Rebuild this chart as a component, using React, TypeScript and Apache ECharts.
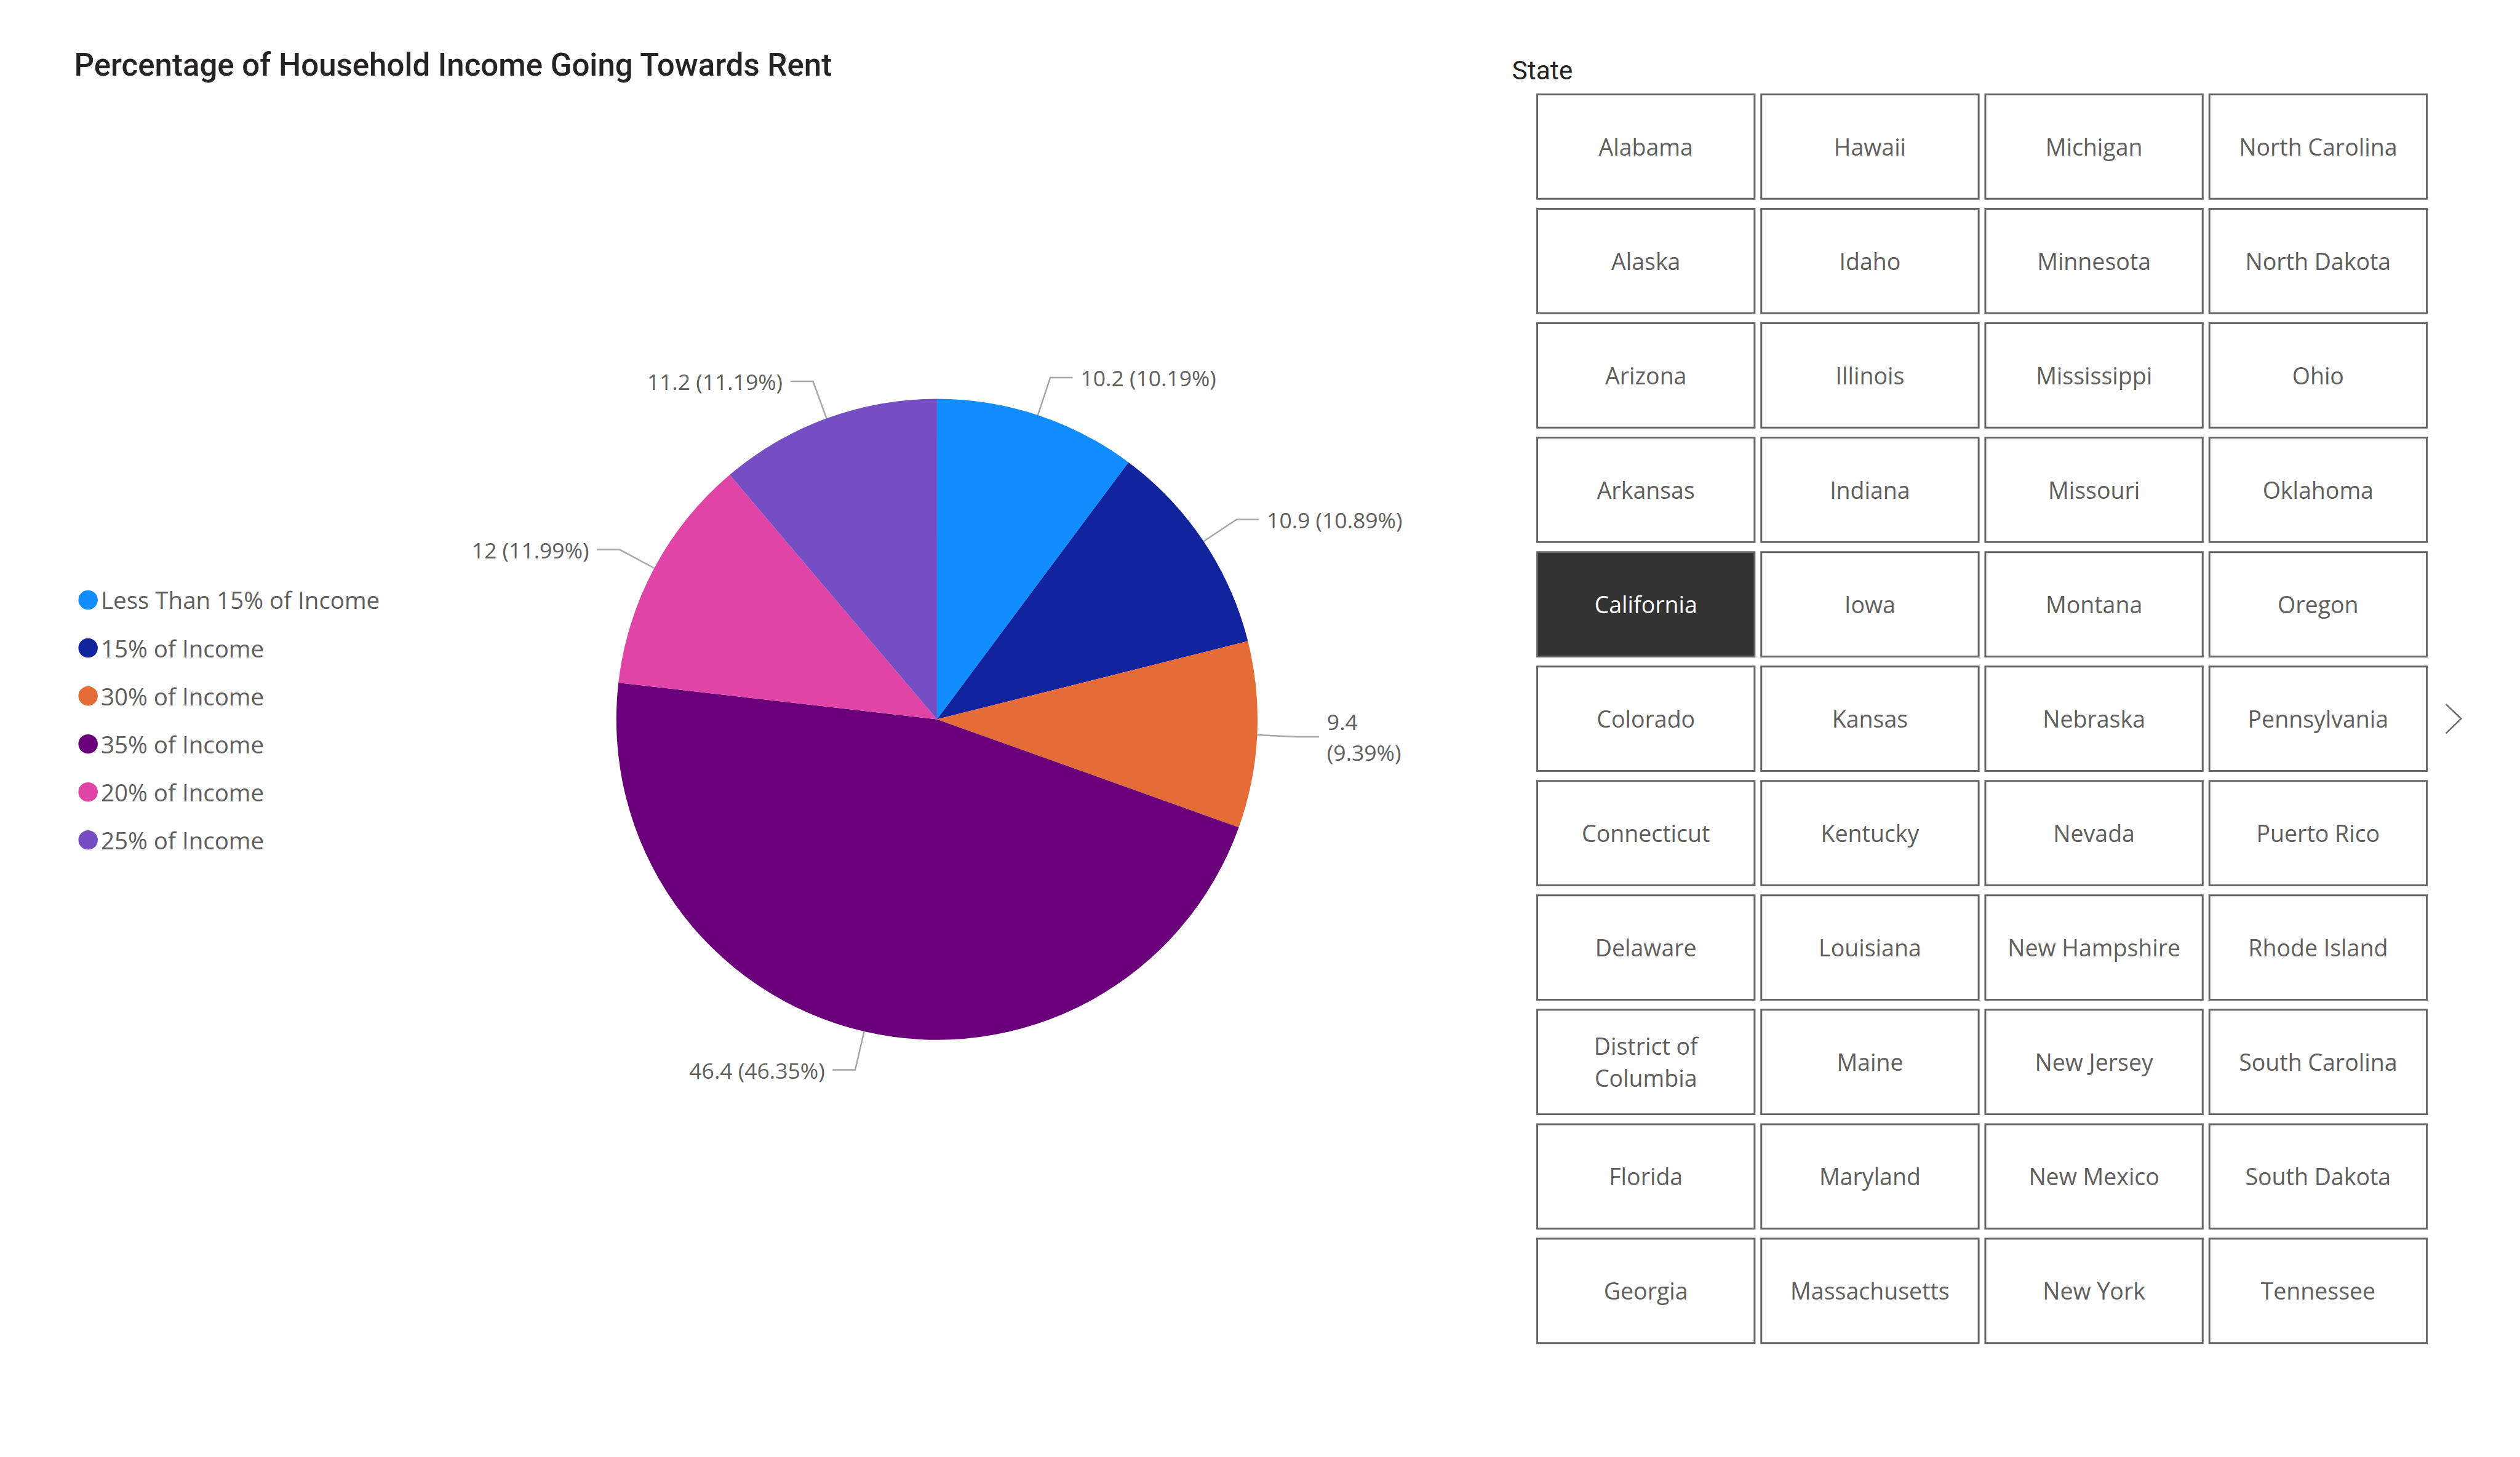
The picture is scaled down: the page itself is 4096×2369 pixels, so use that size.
import React, { useEffect, useRef } from "react";
import * as echarts from "echarts";

const S = 4096 / 4150;

const titleText = "Percentage of Household Income Going Towards Rent";
const categories = [
  "Less Than 15% of Income",
  "15% of Income",
  "30% of Income",
  "35% of Income",
  "20% of Income",
  "25% of Income",
];
const values = [10.2, 10.9, 9.4, 46.4, 12, 11.2];
const sliceColors = ["#118DFF", "#12239E", "#E66C37", "#6B007B", "#E044A7", "#744EC2"];
const wrappedLabels = ["30% of Income"];

const slicerTitle = "State";
const stateColumns = [
  ["Alabama", "Alaska", "Arizona", "Arkansas", "California", "Colorado", "Connecticut", "Delaware", "District of\nColumbia", "Florida", "Georgia"],
  ["Hawaii", "Idaho", "Illinois", "Indiana", "Iowa", "Kansas", "Kentucky", "Louisiana", "Maine", "Maryland", "Massachusetts"],
  ["Michigan", "Minnesota", "Mississippi", "Missouri", "Montana", "Nebraska", "Nevada", "New Hampshire", "New Jersey", "New Mexico", "New York"],
  ["North Carolina", "North Dakota", "Ohio", "Oklahoma", "Oregon", "Pennsylvania", "Puerto Rico", "Rhode Island", "South Carolina", "South Dakota", "Tennessee"],
];
const selectedState = "California";

function buildSlicer() {
  const els: any[] = [];
  const x0 = 2530, y0 = 154, colPitch = 369, rowPitch = 188.5, w = 361, h = 175, bw = 3;
  stateColumns.forEach((col, c) => {
    col.forEach((name, r) => {
      const x = x0 + c * colPitch;
      const y = y0 + r * rowPitch;
      const sel = name === selectedState;
      els.push({
        type: "rect",
        silent: true,
        shape: { x: (x + bw / 2) * S, y: (y + bw / 2) * S, width: (w - bw) * S, height: (h - bw) * S },
        style: { fill: sel ? "#333333" : "#FFFFFF", stroke: "#666666", lineWidth: bw * S },
      });
      els.push({
        type: "text",
        silent: true,
        style: {
          text: name,
          x: (x + w / 2) * S,
          y: (y + h / 2) * S,
          align: "center",
          verticalAlign: "middle",
          fontFamily: "Open Sans",
          fontSize: 38 * S,
          lineHeight: 53 * S,
          fill: sel ? "#FFFFFF" : "#605E5C",
        },
      });
    });
  });
  els.push({
    type: "polyline",
    silent: true,
    shape: { points: [[4028 * S, 1160 * S], [4053 * S, 1184 * S], [4028 * S, 1208 * S]] },
    style: { stroke: "#666666", lineWidth: 2.5 * S, fill: null },
  });
  els.push({
    type: "text",
    silent: true,
    style: {
      text: slicerTitle,
      x: 2490 * S,
      y: 116 * S,
      align: "left",
      verticalAlign: "middle",
      fontFamily: "Roboto",
      fontSize: 43 * S,
      fill: "#252423",
    },
  });
  return els;
}

export default function App() {
  const ref = useRef<HTMLDivElement>(null);
  useEffect(() => {
    if (!ref.current) return;
    const chart = echarts.init(ref.current, undefined, { renderer: "svg" });
    const data = categories.map((name, i) => ({
      name,
      value: values[i],
      itemStyle: { color: sliceColors[i] },
    }));
    chart.setOption({
      animation: false,
      backgroundColor: "#FFFFFF",
      title: {
        text: titleText,
        left: 117 * S,
        top: 76 * S,
        textStyle: { fontFamily: "Roboto", fontSize: 51.7 * S, fontWeight: 500, color: "#252423" },
      },
      legend: {
        orient: "vertical",
        left: 124 * S,
        top: 964 * S,
        icon: "circle",
        itemWidth: 32 * S,
        itemHeight: 32 * S,
        itemGap: 40.6 * S,
        selectedMode: false,
        data: categories,
        textStyle: { fontFamily: "Open Sans", fontSize: 39 * S, color: "#605E5C", lineHeight: 32 * S },
      },
      series: [
        {
          type: "pie",
          silent: true,
          center: [1543 * S, 1185 * S],
          radius: 528 * S,
          startAngle: 90,
          clockwise: true,
          avoidLabelOverlap: false,
          percentPrecision: 2,
          label: {
            show: true,
            position: "outside",
            fontFamily: "Open Sans",
            fontSize: 36 * S,
            lineHeight: 50 * S,
            color: "#605E5C",
            distanceToLabelLine: 13 * S,
            formatter: (p: any) => {
              const pct = Number(p.percent).toFixed(2);
              const sep = wrappedLabels.includes(p.name) ? "\n" : " ";
              return `${p.value}${sep}(${pct}%)`;
            },
          },
          labelLine: {
            show: true,
            length: 65 * S,
            length2: 37 * S,
            lineStyle: { color: "#A6A6A6", width: 2.5 * S },
          },
          emphasis: { disabled: true },
          data,
        },
      ],
      graphic: buildSlicer(),
    });
    return () => chart.dispose();
  }, []);
  return (
    <div
      ref={ref}
      style={{ position: "fixed", left: 0, top: 0, width: 4096, height: 2369, background: "#FFFFFF" }}
    />
  );
}
